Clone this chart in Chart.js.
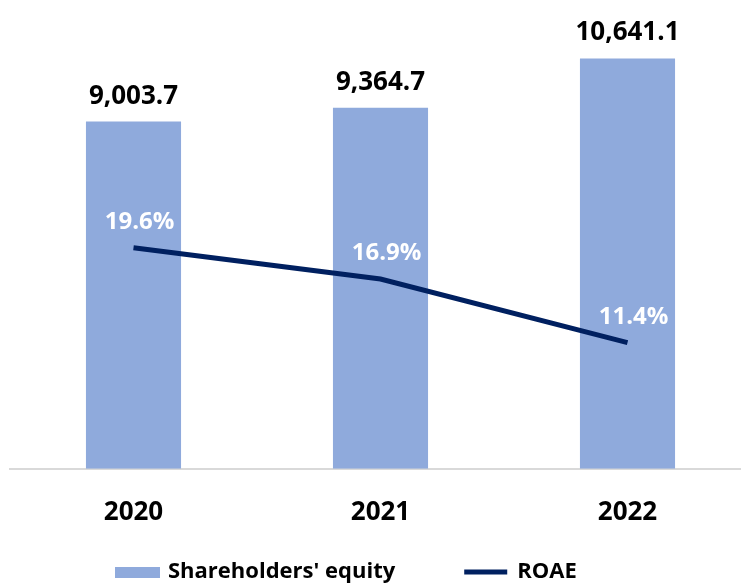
<!DOCTYPE html>
<html lang="en">
<head>
    <meta charset="UTF-8">
    <title>Shareholders' equity and ROAE</title>
    <script src="https://cdn.jsdelivr.net/npm/chart.js"></script>
    <style>
        body { margin: 0; overflow: hidden; background: #fff; }
        #chartContainer { position: relative; width: 752px; height: 584px; }
    </style>
</head>
<body>

<div id="chartContainer">
    <canvas id="equityChart"></canvas>
</div>

<script type="text/javascript">
    // chart data
    const years = ['2020', '2021', '2022'];
    const equity = [9003.7, 9364.7, 10641.1];
    const roae = [19.6, 16.9, 11.4];

    const barColor = '#8faadc';
    const lineColor = '#002060';
    const fontFamily = "'Open Sans', sans-serif";

    Chart.defaults.font.family = fontFamily;

    // value labels above bars and line points
    const valueLabels = {
        id: 'valueLabels',
        afterDatasetsDraw(chart) {
            const ctx = chart.ctx;
            ctx.save();
            ctx.textAlign = 'center';
            ctx.textBaseline = 'alphabetic';

            chart.getDatasetMeta(1).data.forEach((bar, i) => {
                ctx.font = 'bold 26px ' + fontFamily;
                ctx.fillStyle = '#000';
                const txt = equity[i].toLocaleString('en-US', { minimumFractionDigits: 1, maximumFractionDigits: 1 });
                ctx.fillText(txt, bar.x, bar.y - 18);
            });

            chart.getDatasetMeta(0).data.forEach((pt, i) => {
                ctx.font = 'bold 24px ' + fontFamily;
                ctx.fillStyle = '#fff';
                ctx.fillText(roae[i].toFixed(1) + '%', pt.x + 6, pt.y - 19);
            });
            ctx.restore();
        }
    };

    // legend under the axis
    const bottomLegend = {
        id: 'bottomLegend',
        afterDraw(chart) {
            const ctx = chart.ctx;
            const y = 572;
            let x = 115;
            ctx.save();
            ctx.font = 'bold 22px ' + fontFamily;
            ctx.textBaseline = 'middle';

            const barSet = chart.data.datasets[1];
            ctx.fillStyle = barSet.backgroundColor;
            ctx.fillRect(x, y - 5, 45, 11);
            x += 45 + 8;
            ctx.fillStyle = '#000';
            ctx.fillText(barSet.label, x, y);
            x += ctx.measureText(barSet.label).width + 69;

            const lineSet = chart.data.datasets[0];
            ctx.strokeStyle = lineSet.borderColor;
            ctx.lineWidth = 5;
            ctx.beginPath();
            ctx.moveTo(x, y);
            ctx.lineTo(x + 43, y);
            ctx.stroke();
            x += 43 + 10;
            ctx.fillText(lineSet.label, x, y);
            ctx.restore();
        }
    };

    const ctx = document.getElementById('equityChart').getContext('2d');
    new Chart(ctx, {
        data: {
            labels: years,
            datasets: [
                {
                    type: 'line',
                    label: 'ROAE',
                    data: roae,
                    yAxisID: 'y1',
                    borderColor: lineColor,
                    backgroundColor: lineColor,
                    borderWidth: 5,
                    pointRadius: 0,
                    tension: 0,
                    order: 0
                },
                {
                    type: 'bar',
                    label: "Shareholders' equity",
                    data: equity,
                    yAxisID: 'y',
                    backgroundColor: barColor,
                    categoryPercentage: 1,
                    barPercentage: 0.385,
                    order: 1
                }
            ]
        },
        options: {
            responsive: true,
            maintainAspectRatio: false,
            animation: false,
            layout: { padding: { top: 6, left: 10, right: 1, bottom: 28 } },
            plugins: {
                legend: { display: false },
                tooltip: { enabled: false }
            },
            scales: {
                x: {
                    grid: { display: false, drawTicks: false },
                    border: { display: true, color: '#d9d9d9', width: 2 },
                    ticks: {
                        color: '#000',
                        padding: 28,
                        font: { size: 26, weight: 'bold' }
                    }
                },
                y: {
                    display: false,
                    min: 0,
                    max: 12000
                },
                y1: {
                    display: false,
                    min: 0.5,
                    max: 40.5
                }
            }
        },
        plugins: [valueLabels, bottomLegend]
    });
</script>

</body>
</html>
